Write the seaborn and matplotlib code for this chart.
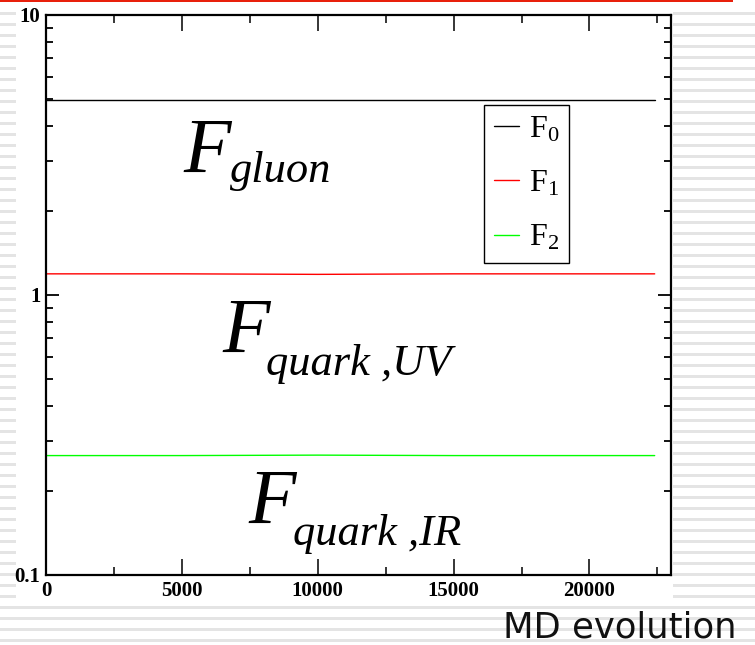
import numpy as np
import pandas as pd
import matplotlib
matplotlib.use("Agg")
import matplotlib.pyplot as plt
import seaborn as sns
from matplotlib.patches import Rectangle
from matplotlib.ticker import FixedLocator, NullFormatter, FixedFormatter

# ---------------- data ----------------
steps = [0, 5000, 10000, 15000, 20000, 22400]
f0_values = [4.98, 4.98, 4.98, 4.98, 4.98, 4.98]
f1_values = [1.19, 1.19, 1.185, 1.19, 1.19, 1.19]
f2_values = [0.267, 0.267, 0.268, 0.267, 0.267, 0.267]
series_names = ["F0", "F1", "F2"]
legend_labels = [r"$\mathregular{F_0}$", r"$\mathregular{F_1}$", r"$\mathregular{F_2}$"]
series_colors = ["#000000", "#ff0000", "#00ff00"]
x_ticks = [0, 5000, 10000, 15000, 20000]
x_minor_ticks = [2500, 7500, 12500, 17500, 22500]
y_ticks = [0.1, 1, 10]
y_ticklabels = ["0.1", "1", "10"]
region_main = ["F", "F", "F"]
region_sub = ["gluon", "quark ,UV", "quark ,IR"]
x_title = "MD evolution"

df = pd.DataFrame({
    "step": steps * 3,
    "value": f0_values + f1_values + f2_values,
    "series": [series_names[0]] * len(steps) + [series_names[1]] * len(steps) + [series_names[2]] * len(steps),
})

# ---------------- style ----------------
sns.set_style("ticks")
plt.rcParams["font.family"] = ["Liberation Serif", "DejaVu Serif"]
plt.rcParams["mathtext.fontset"] = "custom"
plt.rcParams["mathtext.rm"] = "Liberation Serif"
plt.rcParams["mathtext.it"] = "Liberation Serif:italic"
plt.rcParams["mathtext.bf"] = "Liberation Serif:bold"
plt.rcParams["text.color"] = "black"
plt.rcParams["xtick.color"] = "black"
plt.rcParams["ytick.color"] = "black"
plt.rcParams["xtick.labelcolor"] = "black"
plt.rcParams["ytick.labelcolor"] = "black"

W, H = 755, 645
fig = plt.figure(figsize=(W / 100, H / 100), dpi=100)
fig.patch.set_facecolor("white")

# slide background with stripes
bg = fig.add_axes([0, 0, 1, 1], zorder=-5)
bg.set_xlim(0, W)
bg.set_ylim(H, 0)
bg.axis("off")
for k in range(60):
    yy = 12 + 11 * k
    if yy > H:
        break
    bg.add_patch(Rectangle((0, yy), W, 3, facecolor="#e4e4e4", edgecolor="none"))
bg.add_patch(Rectangle((16, 4), 673 - 16, 600, facecolor="white", edgecolor="none"))
bg.add_patch(Rectangle((0, 0), 733, 2.2, facecolor="#e8200c", edgecolor="none"))

# main axes (pixel box: left 46, right 671, top 15, bottom 575)
L, R, T, B = 46, 671, 15, 575
ax = fig.add_axes([L / W, 1 - B / H, (R - L) / W, (B - T) / H])
ax.set_facecolor("none")

sns.lineplot(data=df, x="step", y="value", hue="series", palette=series_colors,
             linewidth=1.0, ax=ax, legend=False)
ax.set_yscale("log")
ax.set_xlim(0, 23000)
ax.set_ylim(0.1, 10)
ax.set_xlabel("")
ax.set_ylabel("")

ax.xaxis.set_major_locator(FixedLocator(x_ticks))
ax.xaxis.set_minor_locator(FixedLocator(x_minor_ticks))
ax.yaxis.set_major_locator(FixedLocator(y_ticks))
ax.yaxis.set_major_formatter(FixedFormatter(y_ticklabels))
minor_y = [m * d for d in (0.1, 1) for m in range(2, 10)]
ax.yaxis.set_minor_locator(FixedLocator(minor_y))
ax.yaxis.set_minor_formatter(NullFormatter())

for s in ax.spines.values():
    s.set_visible(True)
    s.set_linewidth(1.6)
    s.set_color("black")

ax.tick_params(axis="x", which="major", direction="in", length=11.5, width=1.1,
               top=True, bottom=True, pad=4, labelsize=15)
ax.tick_params(axis="x", which="minor", direction="in", length=5.8, width=1.1,
               top=True, bottom=True)
ax.tick_params(axis="y", which="major", direction="in", length=9.4, width=1.3,
               left=True, right=True, pad=4, labelsize=15)
ax.tick_params(axis="y", which="minor", direction="in", length=5, width=1.3,
               left=True, right=True)
for lab in ax.get_xticklabels() + ax.get_yticklabels():
    lab.set_fontweight("bold")

# legend
handles = [plt.Line2D([], [], color=c, linewidth=1.0) for c in series_colors]
leg = ax.legend(handles, legend_labels, loc="upper left",
                bbox_to_anchor=((484 - L) / (R - L), (B - 105) / (B - T)),
                borderaxespad=0, fontsize=23, frameon=True, fancybox=False,
                framealpha=1, edgecolor="black", handlelength=0.8,
                handletextpad=0.3, labelspacing=0.78, borderpad=0.3,
                labelcolor="black")
leg.get_frame().set_linewidth(1.0)

# region labels (big F with subscript), pixel anchors converted to figure fraction
main_pos = [(183, 172), (222, 352), (248, 523)]
sub_pos = [(230, 182), (266, 375), (293, 545)]
for m, s, (mx, my), (sx, sy) in zip(region_main, region_sub, main_pos, sub_pos):
    fig.text(mx / W, 1 - my / H, m, fontsize=56, fontstyle="italic", color="black",
             family="Liberation Serif", ha="left", va="baseline")
    fig.text(sx / W, 1 - sy / H, s, fontsize=32, fontstyle="italic", color="black",
             family="Liberation Serif", ha="left", va="baseline")

fig.text(503 / W, 1 - 637 / H, x_title, fontsize=25.5, family="DejaVu Sans",
         color="#111111", ha="left", va="baseline")

fig.savefig("out.png", dpi=100)
